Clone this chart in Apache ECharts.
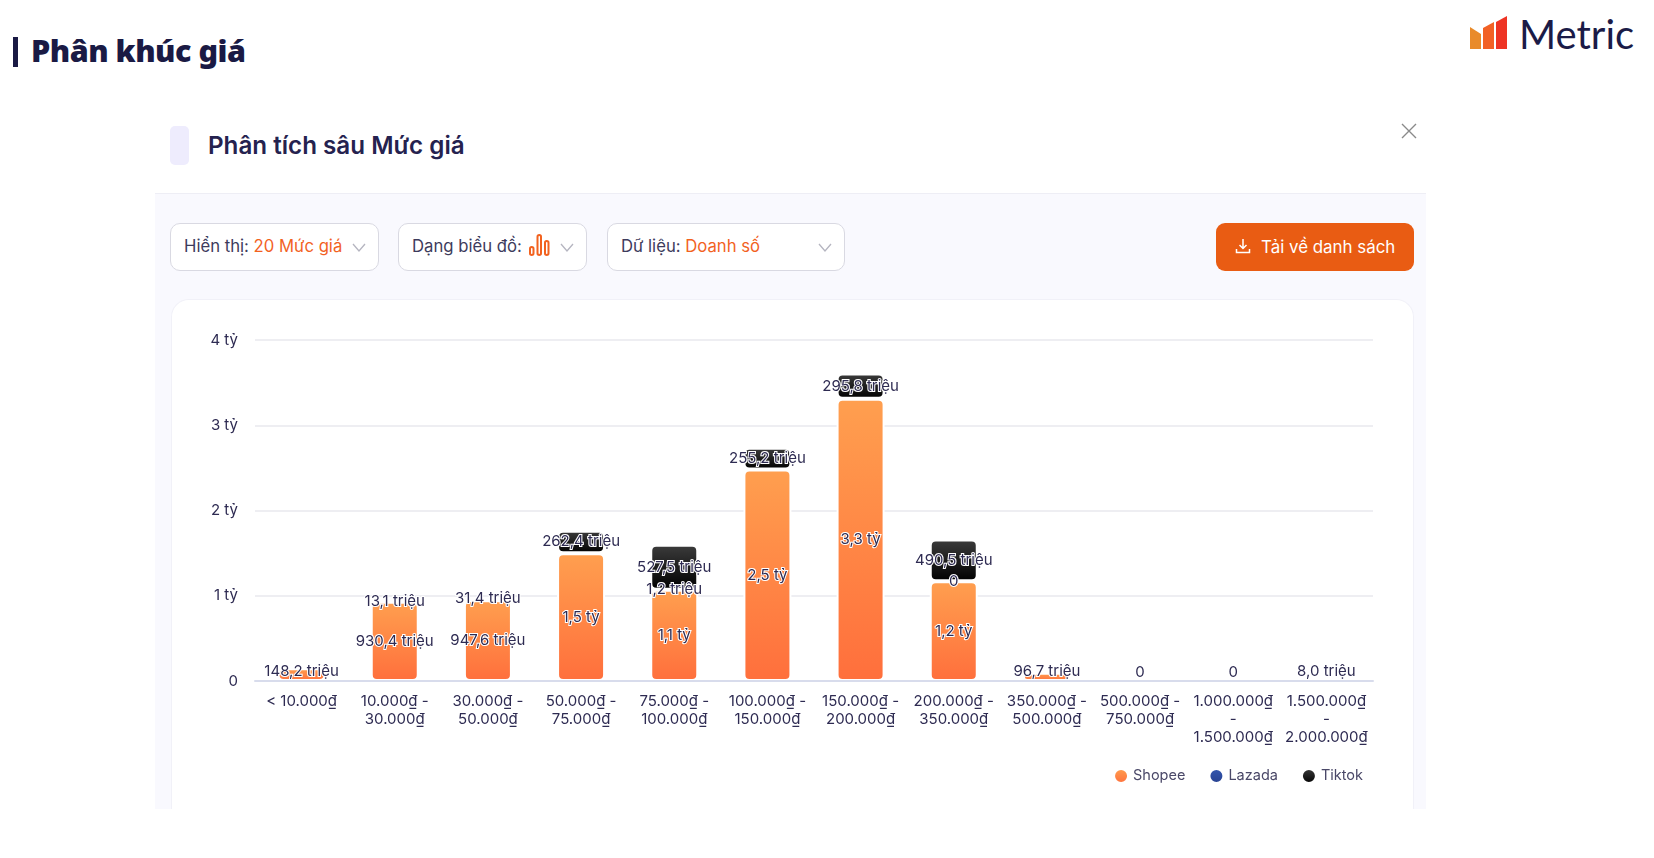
<!DOCTYPE html>
<html lang="vi">
<head>
<meta charset="utf-8">
<title>Phân khúc giá</title>
<script src="https://cdn.jsdelivr.net/npm/echarts@6/dist/echarts.min.js"></script>
<style>
  html, body { margin: 0; padding: 0; background: #fff; }
  body { position: relative; width: 1654px; height: 858px; overflow: hidden; font-family: Inter, sans-serif; color: #3d3b5c; }
  .abs { position: absolute; white-space: nowrap; box-sizing: border-box; }
  .page-title { left: 31px; top: 29px; font: 900 30.5px/42px "Noto Sans", sans-serif; color: #1a1a44; letter-spacing: -0.5px; }
  .page-bar { left: 13px; top: 37px; width: 5px; height: 30px; background: #1a1a44; }
  .logo-text { left: 1519px; top: 9px; font: 400 40px/50px Lato, sans-serif; color: #1b1b47; }
  .panel { left: 155px; top: 193px; width: 1271px; height: 616px; background: #f9f9fe; border-top: 1px solid #eeeef5; }
  .head-icon { left: 170px; top: 126px; width: 19px; height: 39px; background: #eeecfd; border-radius: 5px; }
  .head-title { left: 208px; top: 131px; font: 600 24.2px/30px Inter, sans-serif; color: #25224f; }
  .select { top: 223px; height: 48px; background: #fff; border: 1px solid #d9d9e2; border-radius: 10px; font-size: 16.7px; line-height: 45px; padding-left: 13px; }
  .select b { font-weight: 400; color: #f2621f; }
  .select svg { position: absolute; right: 12px; top: 16px; }
  .btn { left: 1216px; top: 223px; width: 198px; height: 48px; background: #e95c13; border-radius: 9px; color: #fff; font-size: 16.9px; line-height: 48px; padding-left: 45px; }
  .btn svg { position: absolute; left: 19px; top: 15px; }
  .card { left: 171px; top: 299px; width: 1243px; height: 510px; background: #fff; border: 1px solid #f1f1f8; border-bottom: 0; border-radius: 18px 18px 0 0; }
  #chart { position: absolute; left: 171px; top: 300px; width: 1243px; height: 509px; }
</style>
</head>
<body>
<div class="abs page-bar"></div>
<div class="abs page-title">Phân khúc giá</div>
<svg class="abs" style="left:1470px;top:16px" width="40" height="34" viewBox="0 0 40 34">
  <polygon points="0,11 11,18 11,33 0,33" fill="#e98b2a"/>
  <polygon points="13,12 24,6 24,33 13,33" fill="#f26125"/>
  <polygon points="26,6 37,0 37,33 26,33" fill="#ee3424"/>
</svg>
<div class="abs logo-text">Metric</div>
<div class="abs head-icon"></div>
<div class="abs head-title">Phân tích sâu Mức giá</div>
<svg class="abs" style="left:1401px;top:123px" width="16" height="16" viewBox="0 0 16 16"><path d="M1 1L15 15M15 1L1 15" stroke="#8a8a8a" stroke-width="1.4" fill="none"/></svg>
<div class="abs panel"></div>
<div class="abs select" style="left:170px;width:209px">Hiển thị: <b>20 Mức giá</b>
  <svg width="14" height="14" viewBox="0 0 14 14"><path d="M1 4L7 11L13 4" stroke="#b5b5c0" stroke-width="1.3" fill="none"/></svg></div>
<div class="abs select" style="left:398px;width:189px">Dạng biểu đồ:
  <svg style="right:36px;top:10px" width="21" height="22" viewBox="0 0 21 22"><g fill="none" stroke="#f2621f" stroke-width="2"><rect x="1" y="13" width="3.5" height="8" rx="1.7"/><rect x="8.5" y="1" width="3.5" height="20" rx="1.7"/><rect x="16" y="7" width="3.5" height="14" rx="1.7"/></g></svg>
  <svg width="14" height="14" viewBox="0 0 14 14"><path d="M1 4L7 11L13 4" stroke="#b5b5c0" stroke-width="1.3" fill="none"/></svg></div>
<div class="abs select" style="left:607px;width:238px">Dữ liệu: <b>Doanh số</b>
  <svg width="14" height="14" viewBox="0 0 14 14"><path d="M1 4L7 11L13 4" stroke="#b5b5c0" stroke-width="1.3" fill="none"/></svg></div>
<div class="abs btn">Tải về danh sách
  <svg width="16" height="16" viewBox="0 0 16 16"><path d="M8 1V10M4.5 7L8 10.5L11.500 7M1.500 11V14.500H14.500V11" stroke="#fff" stroke-width="1.5" fill="none"/></svg></div>
<div class="abs card"></div>
<div id="chart"></div>
<script>
  const categories = [
    "< 10.000₫", "10.000₫ -\n30.000₫", "30.000₫ -\n50.000₫", "50.000₫ -\n75.000₫",
    "75.000₫ -\n100.000₫", "100.000₫ -\n150.000₫", "150.000₫ -\n200.000₫", "200.000₫ -\n350.000₫",
    "350.000₫ -\n500.000₫", "500.000₫ -\n750.000₫", "1.000.000₫\n-\n1.500.000₫", "1.500.000₫\n-\n2.000.000₫"
  ];
  const shopee = [148.2e6, 930.4e6, 947.6e6, 1.5e9, 1.07e9, 2.48e9, 3.31e9, 1.17e9, 96.7e6, 0, 0, 8.0e6];
  const lazada = [null, 13.1e6, 31.4e6, null, 1.2e6, null, null, 0, null, null, null, null];
  const tiktok = [null, null, null, 262.4e6, 527.5e6, 255.2e6, 295.8e6, 490.5e6, null, null, null, null];

  const textColor = "#2e2b52";

  // 1,5 tỷ / 930,4 triệu
  const formatMoney = (v) => {
    if (!v) return "0";
    if (v >= 1e9) return (v / 1e9).toFixed(1).replace(".", ",") + " tỷ";
    return (v / 1e6).toFixed(1).replace(".", ",") + " triệu";
  };

  const gradient = (top, bottom) => new echarts.graphic.LinearGradient(0, 0, 0, 1, [
    { offset: 0, color: top },
    { offset: 1, color: bottom },
  ]);

  const makeSeries = (name, data, top, bottom) => ({
    name,
    type: "bar",
    stack: "total",
    data,
    barWidth: 48,
    itemStyle: {
      color: gradient(top, bottom),
      borderColor: "#fff",
      borderWidth: 2,
      borderRadius: 5,
    },
    label: {
      show: true,
      position: "inside",
      offset: [0, 2],
      formatter: (p) => formatMoney(p.value),
      fontFamily: "Inter",
      fontSize: 15,
      color: textColor,
      textBorderColor: "#fff",
      textBorderWidth: 2,
    },
    // tiny shopee bars keep their label just above the axis
    labelLayout: (p) => {
      if (p.seriesIndex !== 0) return {};
      const floor = p.rect.y + p.rect.height - 8;
      const center = p.labelRect.y + p.labelRect.height / 2;
      return { dy: Math.min(0, floor - center) };
    },
  });

  const myChart = echarts.init(document.getElementById("chart"));
  myChart.setOption({
    animation: false,
    textStyle: { fontFamily: "Inter" },
    grid: { left: 84, right: 41, top: 40, bottom: 128 },
    legend: {
      right: 46,
      top: 463,
      icon: "circle",
      itemWidth: 14,
      itemHeight: 14,
      itemGap: 23,
      textStyle: { fontFamily: "Inter", fontSize: 14.5, color: "#4a4868" },
      data: ["Shopee", "Lazada", "Tiktok"],
    },
    xAxis: {
      type: "category",
      data: categories,
      z: 3,
      axisTick: { show: false },
      axisLine: { lineStyle: { color: "#d8dcec", width: 2 } },
      axisLabel: { interval: 0, margin: 11, fontSize: 15, lineHeight: 18, color: textColor, fontFamily: "Inter" },
    },
    yAxis: {
      type: "value",
      min: 0,
      max: 4e9,
      interval: 1e9,
      axisLine: { show: false },
      axisTick: { show: false },
      splitLine: { lineStyle: { color: "#eeeef2", width: 2 } },
      axisLabel: {
        margin: 17,
        fontSize: 15,
        color: textColor,
        fontFamily: "Inter",
        padding: [4, 0, 0, 0],
        formatter: (v) => (v ? v / 1e9 + " tỷ" : "0"),
      },
    },
    series: [
      makeSeries("Shopee", shopee, "#ff9f4f", "#ff6f3c"),
      makeSeries("Lazada", lazada, "#3558b0", "#27408f"),
      makeSeries("Tiktok", tiktok, "#3c3c3c", "#000000"),
    ],
  });
</script>
</body>
</html>
